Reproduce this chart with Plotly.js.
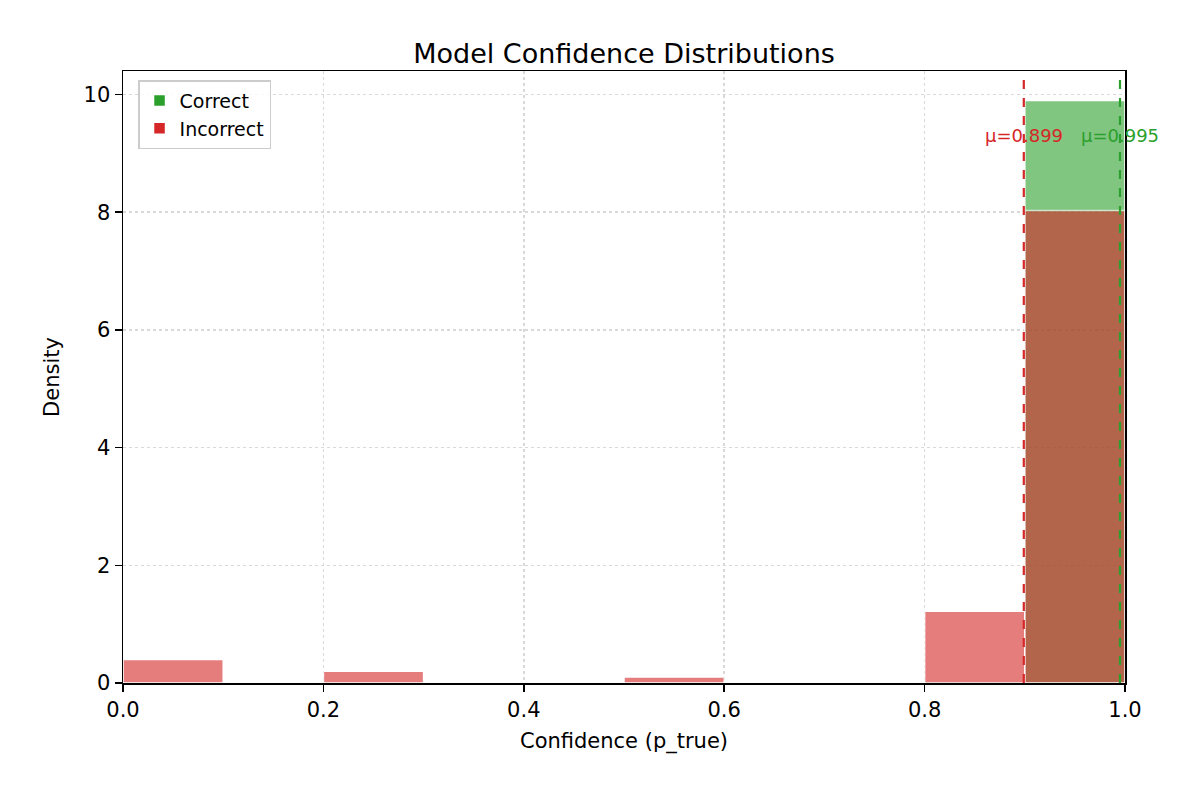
<!DOCTYPE html>
<html>
<head>
<meta charset="utf-8">
<script src="https://cdn.plot.ly/plotly-3.0.1.min.js"></script>
<style>body{margin:0;background:#fff}#chart{width:1200px;height:800px}</style>
</head>
<body>
<div id="chart"></div>
<script>
// ── Data ─────────────────────────────────────
const binCenters = [0.05, 0.15, 0.25, 0.35, 0.45, 0.55, 0.65, 0.75, 0.85, 0.95];
const correctDensity = [0, 0, 0, 0, 0, 0, 0, 0, 0.03, 9.9];
const incorrectDensity = [0.4, 0, 0.2, 0, 0, 0.1, 0, 0, 1.22, 8.03];
const meanCorrect = 0.995;
const meanIncorrect = 0.899;

const font = "DejaVu Sans, sans-serif";

function histTrace(name, y, color) {
  return {
    type: "bar", name, x: binCenters, y, width: 0.1,
    marker: { color, opacity: 0.6, line: { color: "#ffffff", width: 1.5 } },
  };
}

const traces = [
  histTrace("Correct", correctDensity, "#2ca02c"),
  histTrace("Incorrect", incorrectDensity, "#d62728"),
];

function meanLine(x, color) {
  return { type: "line", xref: "x", yref: "paper", x0: x, x1: x, y0: 0, y1: 1,
    line: { color, width: 2.2, dash: "dash" } };
}
function meanLabel(x, color) {
  return { x, y: 9.3, xref: "x", yref: "y", text: "μ=" + x.toFixed(3),
    showarrow: false, xanchor: "center", font: { family: font, size: 18, color } };
}

const axisBase = {
  showline: true, linecolor: "#000", linewidth: 1.5, mirror: true,
  ticks: "outside", ticklen: 7, tickwidth: 1.5, tickcolor: "#000",
  showgrid: true, gridcolor: "#d9d9d9", griddash: "dot", gridwidth: 1.5,
  zeroline: false, tickfont: { family: font, size: 21, color: "#000" },
};

const layout = {
  width: 1200, height: 800,
  margin: { l: 123, r: 75, t: 71, b: 117 },
  paper_bgcolor: "#fff", plot_bgcolor: "#fff",
  barmode: "overlay", bargap: 0,
  title: { text: "Model Confidence Distributions", x: 0.52, y: 0.945,
    font: { family: font, size: 27, color: "#000" } },
  xaxis: { ...axisBase, range: [0, 1], dtick: 0.2, tickformat: ".1f",
    title: { text: "Confidence (p_true)", font: { family: font, size: 21, color: "#000" }, standoff: 12 } },
  yaxis: { ...axisBase, range: [0, 10.4], dtick: 2,
    title: { text: "Density", font: { family: font, size: 21, color: "#000" }, standoff: 18 } },
  legend: { x: 0.015, y: 0.985, xanchor: "left", yanchor: "top",
    bgcolor: "rgba(255,255,255,0.8)", bordercolor: "#ccc", borderwidth: 1.5,
    font: { family: font, size: 19, color: "#000" } },
  shapes: [meanLine(meanIncorrect, "#d62728"), meanLine(meanCorrect, "#2ca02c")],
  annotations: [meanLabel(meanIncorrect, "#d62728"), meanLabel(meanCorrect, "#2ca02c")],
};

Plotly.newPlot("chart", traces, layout, { displayModeBar: false, staticPlot: true });
</script>
</body>
</html>
